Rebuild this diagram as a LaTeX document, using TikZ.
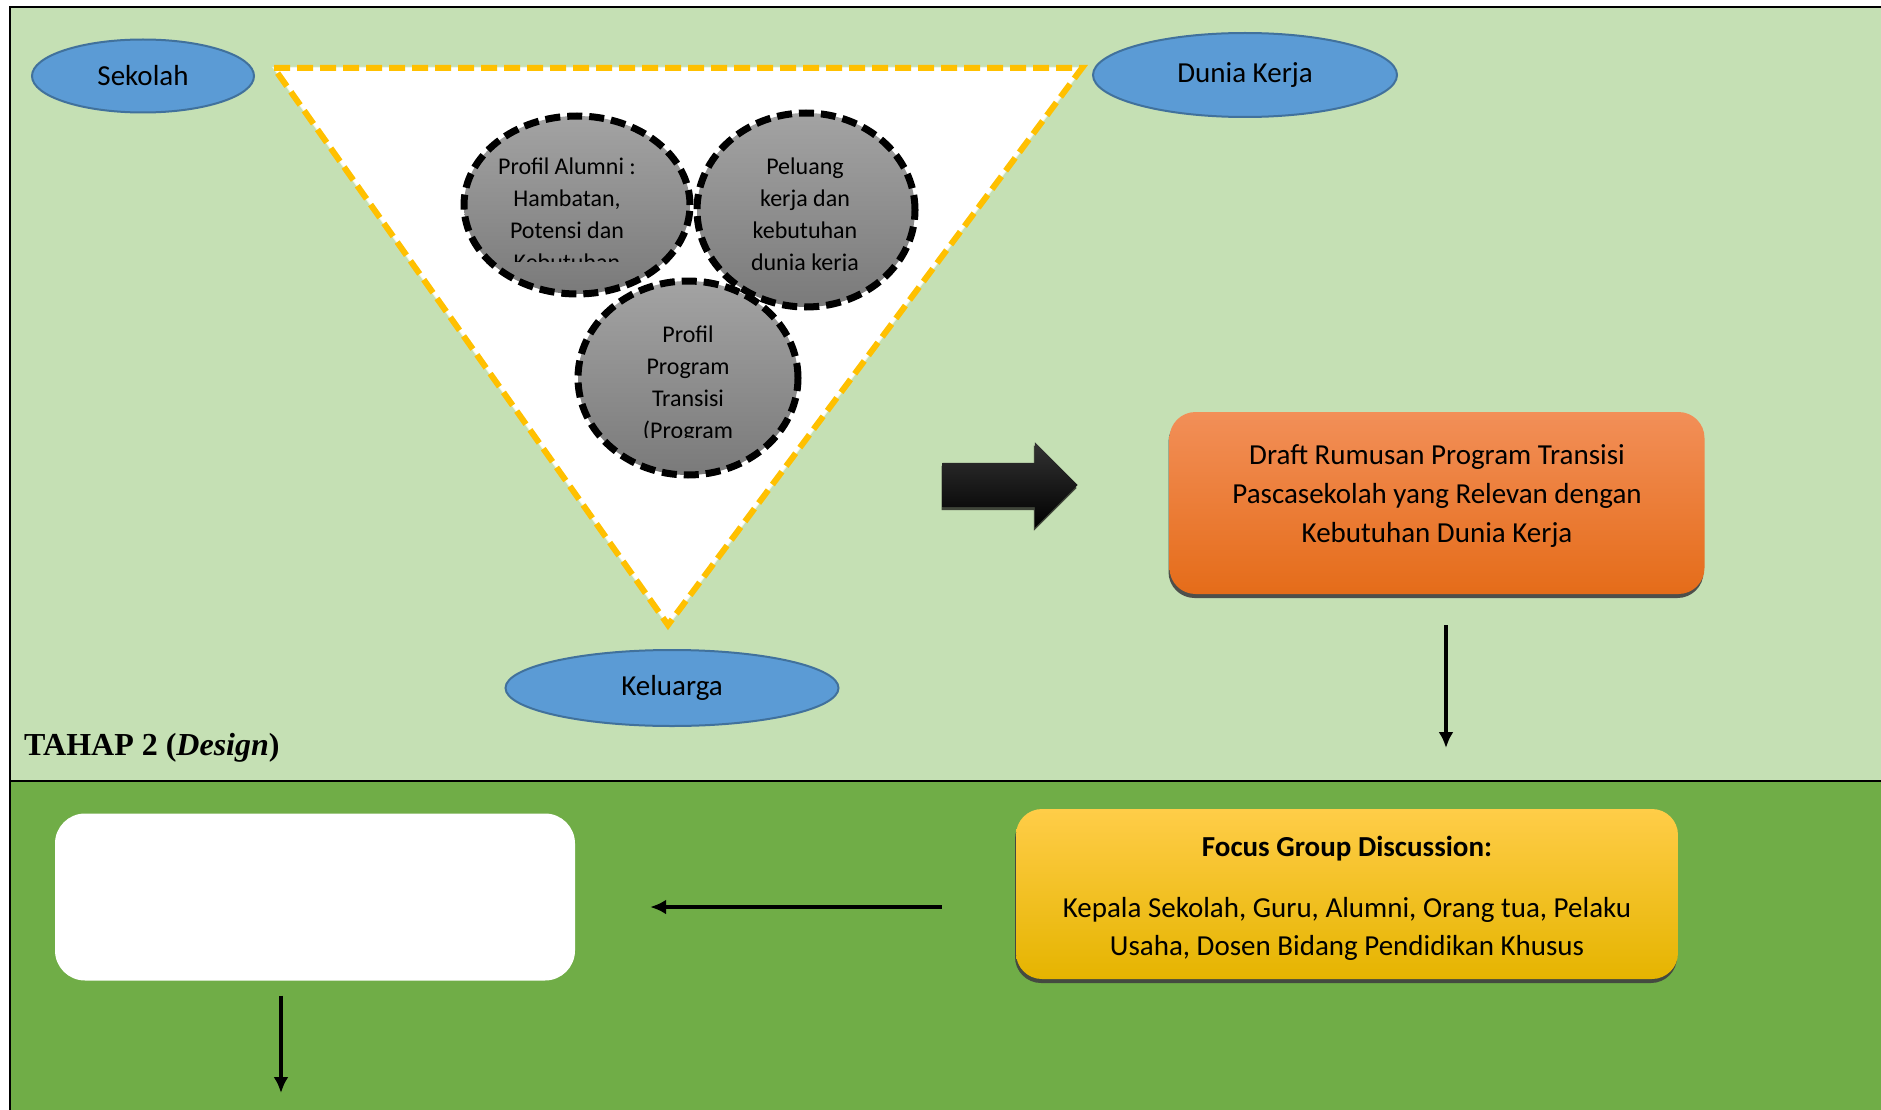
\documentclass[tikz,border=0pt]{standalone}
\usepackage{fontspec}
\setmainfont{Carlito}
\newfontfamily\timesfont{Liberation Serif}
\usepackage{tikz}
\usetikzlibrary{arrows.meta,shapes.geometric,shapes.arrows,shadows}

\definecolor{hijaumuda}{RGB}{197,224,180}
\definecolor{hijautua}{RGB}{112,173,71}
\definecolor{biru}{RGB}{91,155,213}
\definecolor{birutepi}{RGB}{65,113,156}
\definecolor{kuningtepi}{RGB}{255,192,0}
\definecolor{abuatas}{RGB}{163,163,163}
\definecolor{abubawah}{RGB}{122,122,122}
\definecolor{oranyeatas}{RGB}{242,143,88}
\definecolor{oranyetengah}{RGB}{244,123,40}
\definecolor{oranyebawah}{RGB}{229,108,25}
\definecolor{kuningatas}{RGB}{255,205,72}
\definecolor{kuningtengah}{RGB}{255,192,0}
\definecolor{kuningbawah}{RGB}{229,180,0}
\definecolor{bayangan}{RGB}{64,70,58}

\begin{document}
\begin{tikzpicture}[x=1pt,y=1pt,
    pihak/.style={ellipse,draw=birutepi,line width=2pt,fill=biru,
        font=\fontsize{29}{35}\selectfont},
    gelembung/.style={ellipse,top color=abuatas,bottom color=abubawah,
        preaction={draw=gray!70,line width=2pt},
        draw=black,line width=7pt,dash pattern=on 15pt off 7pt},
    isigelembung/.style={align=center,anchor=north,font=\fontsize{24}{32}\selectfont},
    segitiga/.style={fill=white,preaction={draw=white!70!hijaumuda,line width=2pt},
        draw=kuningtepi,line width=6pt,dash pattern=on 16pt off 7pt},
    panahblok/.style={single arrow,single arrow tip angle=90,single arrow head extend=20.5pt,
        single arrow head indent=0pt,inner xsep=0pt,inner ysep=22pt,minimum height=135pt,
        top color=black!80,bottom color=black,
        drop shadow={shadow xshift=-1pt,shadow yshift=-3pt,fill=bayangan,opacity=1}},
    kotak/.style={rectangle,rounded corners=26pt,
        drop shadow={shadow xshift=-1pt,shadow yshift=-4pt,fill=black!75,opacity=0.9}},
    panah/.style={line width=3.5pt,-{Latex[length=16pt,width=15pt]}}]
\tikzstyle{every node}+=[inner sep=0pt]
\useasboundingbox (0,0) rectangle (1881,-1110);
\fill[white] (0,0) rectangle (1881,-1110);
\fill[hijaumuda] (10,-7) rectangle (1881,-781);
\fill[hijautua] (10,-781) rectangle (1881,-1110);
\draw[line width=2.5pt] (10,-1110) -- (10,-7) -- (1881,-7);
\draw[line width=2.5pt] (10,-781) -- (1881,-781);

\draw[segitiga] (274,-68) -- (1082,-68) -- (668,-625) -- cycle;

\node[gelembung,minimum width=226pt,minimum height=178pt] (alumni) at (577,-205) {};
\begin{scope}
  \clip (470,-120) rectangle (670,-261);
  \node[isigelembung] (alumnitxt) at (567,-158) {Profil Alumni :\\Hambatan,\\Potensi dan\\Kebutuhan};
\end{scope}
\node[gelembung,minimum width=218pt,minimum height=194pt] (peluang) at (806,-210) {};
\begin{scope}
  \clip (700,-120) rectangle (910,-270);
  \node[isigelembung] (peluangtxt) at (805,-158) {Peluang\\kerja dan\\kebutuhan\\dunia kerja};
\end{scope}
\node[gelembung,minimum width=220pt,minimum height=194pt] (program) at (688,-378) {};
\begin{scope}
  \clip (590,-300) rectangle (790,-437);
  \node[isigelembung] (programtxt) at (688,-326) {Profil\\Program\\Transisi\\(Program};
\end{scope}

\node[pihak,minimum width=222pt,minimum height=73pt] (sekolah) at (143,-76) {Sekolah};
\node[pihak,minimum width=304pt,minimum height=84pt] (dunia) at (1245,-75) {Dunia Kerja};
\node[pihak,minimum width=333pt,minimum height=76pt] (keluarga) at (672,-688) {Keluarga};

\node[panahblok] (panahbesar) at (999,-485) {};

\node[kotak,top color=oranyeatas,middle color=oranyetengah,bottom color=oranyebawah,
    minimum width=535pt,minimum height=182pt] (draft) at (1437,-503) {};
\node[align=center,font=\fontsize{29}{39}\selectfont] (drafttxt) at (1437,-496)
    {Draft Rumusan Program Transisi\\Pascasekolah yang Relevan dengan\\Kebutuhan Dunia Kerja};

\node[anchor=base west,font=\timesfont\fontsize{32}{36}\selectfont\bfseries] (tahap) at (24,-755)
    {TAHAP 2 (\textit{Design})};

\node[kotak,top color=kuningatas,middle color=kuningtengah,bottom color=kuningbawah,
    minimum width=662pt,minimum height=170pt] (fgd) at (1347,-894) {};
\node[align=center,font=\fontsize{29}{38}\selectfont] (fgdtxt) at (1347,-898)
    {\textbf{Focus Group Discussion:}\\[23pt]Kepala Sekolah, Guru, Alumni, Orang tua, Pelaku\\Usaha, Dosen Bidang Pendidikan Khusus};

\node[rectangle,rounded corners=30pt,fill=white,minimum width=520pt,minimum height=167pt]
    (produk) at (315,-897) {};

\coordinate (draftend) at (1446,-748);
\coordinate (produkend) at (281,-1093);
\draw[panah] ([xshift=9pt,yshift=-31pt]draft.south) -- (draftend);
\draw[panah] ([xshift=-74pt,yshift=-13pt]fgd.west) -- ([xshift=75pt,yshift=-10pt]produk.east);
\draw[panah] ([xshift=-34pt,yshift=-15pt]produk.south) -- (produkend);
\end{tikzpicture}
\end{document}
